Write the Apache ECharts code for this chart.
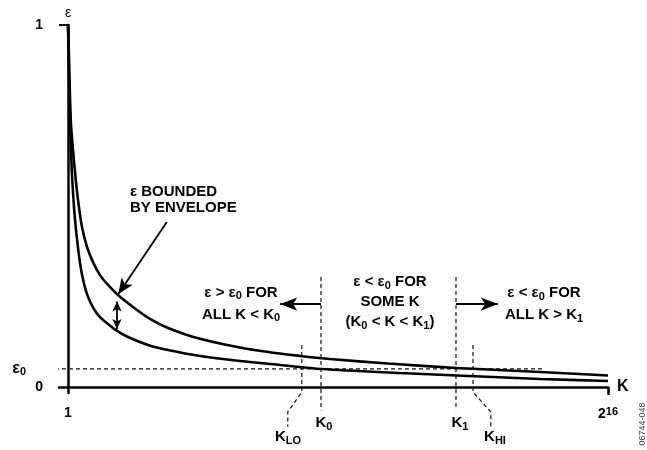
<!DOCTYPE html>
<html>
<head>
<meta charset="utf-8">
<script src="https://cdn.jsdelivr.net/npm/echarts@6/dist/echarts.min.js"></script>
<style>
  html, body { margin: 0; padding: 0; background: #fff; }
  #chart { width: 647px; height: 450px; }
</style>
</head>
<body>
<div id="chart"></div>
<script>
// x = position along the K axis in % (0 -> K = 1, 100 -> K = 2^16), y = error ε
const upperX = [0, 0.185, 0.37, 0.556, 0.926, 1.296, 1.852, 2.593, 3.519, 4.63, 5.926, 7.407, 9.259, 12.04, 15.19, 18.52, 24.44, 33.33, 42.96, 48.52, 59.26, 72.04, 87.41, 100];
const upperY = [1, 0.912, 0.801, 0.724, 0.655, 0.594, 0.517, 0.442, 0.387, 0.345, 0.309, 0.282, 0.254, 0.221, 0.188, 0.163, 0.133, 0.105, 0.0856, 0.0773, 0.0649, 0.0525, 0.0414, 0.0318];
const lowerX = [0, 0.185, 0.37, 0.556, 0.741, 1.111, 1.481, 2.222, 2.963, 3.704, 4.815, 5.926, 7.407, 9.074, 11.11, 14.81, 18.52, 24.44, 31.85, 39.26, 47.04, 61.48, 72.04, 87.41, 100];
const lowerY = [1, 0.856, 0.746, 0.655, 0.586, 0.497, 0.434, 0.343, 0.285, 0.249, 0.215, 0.193, 0.174, 0.155, 0.138, 0.116, 0.102, 0.0856, 0.0718, 0.0608, 0.0497, 0.0387, 0.0318, 0.0221, 0.0166];
const eps0 = 0.05;
const kLo = 43.3, k0 = 46.85, k1 = 71.85, kHi = 75.0;
const yTickLabels = ['0', '1'];
const xTickLabels = ['1', '2^16'];

const F = '"Liberation Sans", Arial, Helvetica, sans-serif';
const zip = (xs, ys) => xs.map((x, i) => [x, ys[i]]);

const chart = echarts.init(document.getElementById('chart'));

const curve = (name, data) => ({
  name, type: 'line', data, symbol: 'none', smooth: 0.3,
  lineStyle: { color: '#000', width: 2.6 }, silent: true, z: 3
});
const dashed = (data) => ({
  type: 'line', data, symbol: 'none', clip: false, silent: true,
  lineStyle: { color: '#111', width: 1.2, type: [4, 3] }, z: 2
});

const richText = {
  n: { fontSize: 15, fontWeight: 'bold', fontFamily: F, fill: '#000' },
  s: { fontSize: 11, fontWeight: 'bold', fontFamily: F, fill: '#000', padding: [7, 0, 0, 0] }
};
const note = (x, y, text, align, lh) => ({
  type: 'text', x, y, silent: true,
  style: { text, rich: richText, align, verticalAlign: 'middle', lineHeight: lh,
           fontSize: 15, fontWeight: 'bold', fontFamily: F, fill: '#000' }
});

const arrow = (from, to, both, size) => [
  { coord: from, symbol: both ? 'arrow' : 'none', symbolSize: size },
  { coord: to, symbol: 'arrow', symbolSize: size }
];

const upper = curve('upper', zip(upperX, upperY));
upper.markLine = {
  silent: true, animation: false,
  label: { show: false },
  lineStyle: { color: '#000', width: 1.8, type: 'solid' },
  emphasis: { disabled: true },
  data: [
    arrow([18.3, 0.456], [9.3, 0.256], false, [10, 16]),
    arrow([9.07, 0.236], [9.07, 0.16], true, [7, 10]),
    arrow([k0, 0.229], [39.3, 0.229], false, [10, 17]),
    arrow([k1, 0.229], [79.6, 0.229], false, [10, 17])
  ]
};

chart.setOption({
  animation: false,
  grid: { left: 59, right: 39, top: 25, bottom: 57, outerBoundsMode: 'none' },
  xAxis: {
    type: 'value', min: -1.6667, max: 100,
    axisLine: { onZero: true, lineStyle: { color: '#000', width: 2.5 } },
    axisTick: { customValues: [100], inside: false, length: 8, lineStyle: { color: '#000', width: 2.5 } },
    axisLabel: {
      customValues: [0, 100], margin: 13, color: '#000',
      fontFamily: F, fontSize: 14, fontWeight: 'bold',
      formatter: v => v === 0 ? xTickLabels[0] : '{b|2}{p|16}',
      rich: {
        b: { fontSize: 14, fontWeight: 'bold', fontFamily: F, color: '#000' },
        p: { fontSize: 11, fontWeight: 'bold', fontFamily: F, color: '#000', padding: [0, 0, 6, 0] }
      }
    },
    splitLine: { show: false },
    name: 'K', nameLocation: 'end', nameGap: 9,
    nameTextStyle: { fontFamily: F, fontSize: 16, fontWeight: 'bold', color: '#000', verticalAlign: 'middle' }
  },
  yAxis: {
    type: 'value', min: -0.0166, max: 1,
    axisLine: { onZero: true, lineStyle: { color: '#000', width: 2.5 } },
    axisTick: { customValues: [1], inside: false, length: 9, lineStyle: { color: '#000', width: 2 } },
    axisLabel: {
      customValues: [0, eps0, 1], margin: 16, color: '#000',
      fontFamily: F, fontSize: 14, fontWeight: 'bold',
      formatter: v => v === 0 ? yTickLabels[0] : v === 1 ? yTickLabels[1] : '{e|ε}{s|0}{g| }',
      rich: {
        e: { fontSize: 16, fontFamily: F, color: '#000' },
        s: { fontSize: 11, fontWeight: 'bold', fontFamily: F, color: '#000', padding: [7, 0, 0, 0] },
        g: { width: 17 }
      }
    },
    splitLine: { show: false },
    name: 'ε', nameLocation: 'end', nameGap: 5,
    nameTextStyle: { fontFamily: F, fontSize: 14, color: '#000', align: 'center' }
  },
  series: [
    upper,
    curve('lower', zip(lowerX, lowerY)),
    dashed([[-6.3, eps0], [88.3, eps0]]),
    dashed([[kLo, 0.116], [kLo, -0.014], [kLo - 2.6, -0.069], [kLo - 2.6, -0.11]]),
    dashed([[k0, 0.304], [k0, -0.064]]),
    dashed([[k1, 0.304], [k1, -0.064]]),
    dashed([[kHi, 0.116], [kHi, -0.014], [kHi + 3.3, -0.069], [kHi + 3.3, -0.11]])
  ],
  graphic: [
    note(130, 200, '{n|ε BOUNDED}\n{n|BY ENVELOPE}', 'left', 16),
    note(241, 303.5, '{n|ε > ε}{s|0}{n| FOR}\n{n|ALL K < K}{s|0}', 'center', 22),
    note(390, 302, '{n|ε < ε}{s|0}{n| FOR}\n{n|SOME K}\n{n|(K}{s|0}{n| < K < K}{s|1}{n|)}', 'center', 20),
    note(544, 304, '{n|ε < ε}{s|0}{n| FOR}\n{n|ALL K > K}{s|1}', 'center', 22),
    note(288, 437, '{n|K}{s|LO}', 'center', 18),
    note(324, 423, '{n|K}{s|0}', 'center', 18),
    note(460, 423, '{n|K}{s|1}', 'center', 18),
    note(495, 437, '{n|K}{s|HI}', 'center', 18),
    {
      type: 'text', x: 643, y: 424, rotation: Math.PI / 2, silent: true,
      style: { text: '06744-048', align: 'center', verticalAlign: 'middle',
               fontSize: 9, fontFamily: F, fill: '#444' }
    }
  ]
});
</script>
</body>
</html>
